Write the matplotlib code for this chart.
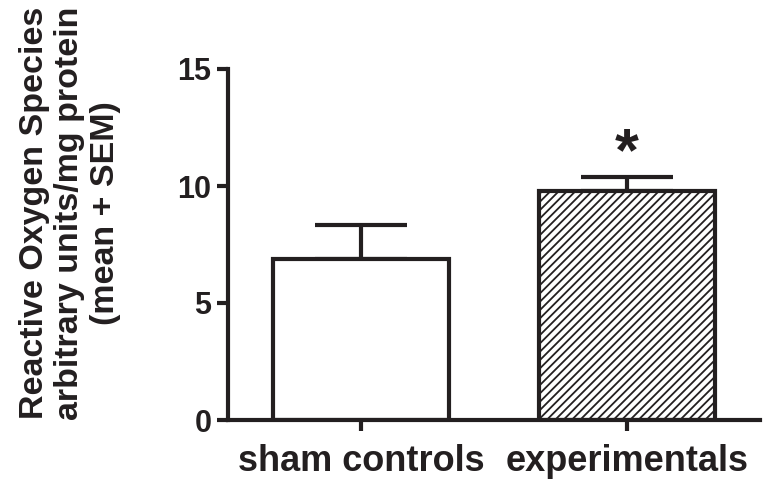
import matplotlib
matplotlib.use("Agg")
import matplotlib.pyplot as plt
import numpy as np

categories = ["sham controls", "experimentals"]
means = [6.88, 9.78]
sem = [1.45, 0.6]
hatches = ["", "////"]
y_ticks = [0, 5, 10, 15]
ylabel = "Reactive Oxygen Species\narbitrary units/mg protein\n(mean + SEM)"
sig_marker = "*"

plt.rcParams['font.family'] = ['Liberation Sans', 'DejaVu Sans']
plt.rcParams['font.weight'] = 'bold'
plt.rcParams['hatch.linewidth'] = 1.3
plt.rcParams['hatch.color'] = '#231f20'

ink = '#231f20'
fig = plt.figure(figsize=(7.65, 4.79), dpi=100)
ax = fig.add_axes([228/765, 1-420/479, (760-228)/765, (420-69)/479])

x = np.arange(len(categories))
bars = ax.bar(x, means, width=0.66, color='white', edgecolor=ink,
              linewidth=3, zorder=2)
for b, h in zip(bars, hatches):
    b.set_hatch(h)
    b.set_joinstyle('miter')

eb = ax.errorbar(x, means, yerr=[np.zeros(len(sem)), sem], fmt='none',
                 ecolor=ink, elinewidth=3, capsize=33, capthick=3, zorder=1)
for cap in eb[1]:
    cap.set_solid_capstyle('round')

ax.text(x[1], means[1] + sem[1] + 0.95, sig_marker, ha='center', va='center',
        fontsize=44, fontweight='bold', color=ink)

ax.set_xlim(-0.5, 1.5)
ax.set_ylim(0, 15)
ax.set_yticks(y_ticks)
ax.set_yticklabels([str(t) for t in y_ticks])
ax.set_xticks(x)
ax.set_xticklabels(categories)

for s in ['top', 'right']:
    ax.spines[s].set_visible(False)
for s in ['left', 'bottom']:
    ax.spines[s].set_linewidth(3)
    ax.spines[s].set_color(ink)
    ax.spines[s].set_capstyle('projecting')

ax.tick_params(axis='y', length=8, width=3, color=ink, labelsize=22,
               pad=4, labelcolor=ink)
ax.tick_params(axis='x', length=8, width=3, color=ink, labelsize=26,
               pad=9, labelcolor=ink)

fig.text(70/765, 1-213/479, ylabel, rotation=90, ha='center', va='center',
         multialignment='center', fontsize=24.5, fontweight='bold', color=ink,
         linespacing=1.2)

fig.savefig('out.png', dpi=100)
